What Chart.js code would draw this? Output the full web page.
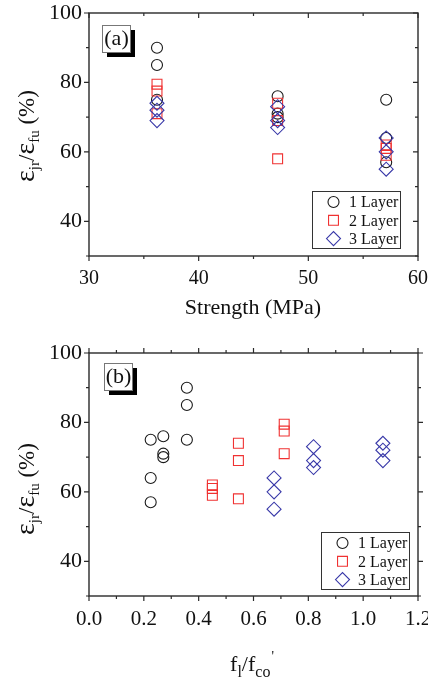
<!DOCTYPE html>
<html><head><meta charset="utf-8">
<script src="https://cdn.jsdelivr.net/npm/chart.js@4/dist/chart.umd.min.js"></script>
<style>
html,body{margin:0;padding:0;background:#fff;width:428px;height:684px;overflow:hidden;position:relative;}
.wrap{position:absolute;left:0;width:428px;}
canvas{display:block;}
.t{position:absolute;font-family:"Liberation Serif","Times New Roman",serif;color:#111;white-space:nowrap;line-height:1;}
.ytitle{font-size:23px;transform:translate(-50%,-50%) rotate(-90deg);}
.ytitle .eps{font-size:28px;}
.ytitle sub{font-size:15px;vertical-align:-5px;}
.xtitle{font-size:22px;transform:translate(-50%,-50%);}
.xtitle sub{font-size:16px;vertical-align:-6px;}
.xtitle sup{font-size:14px;vertical-align:10px;margin-left:1px;}
</style></head>
<body>
<div class="wrap" style="top:0;height:340px;"><canvas id="c1" width="428" height="340"></canvas></div>
<div class="wrap" style="top:340px;height:344px;"><canvas id="c2" width="428" height="344"></canvas></div>
<div class="t ytitle" style="left:26px;top:136px;"><span class="eps">ε</span><sub>jr</sub>/<span class="eps">ε</span><sub>fu</sub> (%)</div>
<div class="t ytitle" style="left:26px;top:489px;"><span class="eps">ε</span><sub>jr</sub>/<span class="eps">ε</span><sub>fu</sub> (%)</div>
<div class="t xtitle" style="left:253px;top:307px;">Strength (MPa)</div>
<div class="t xtitle" style="left:252px;top:665px;">f<sub>l</sub>/f<sub>co</sub><sup>'</sup></div>
<script>
// ---- data ----
const layerNames = ['1 Layer', '2 Layer', '3 Layer'];
// (a) concrete strength (MPa)
const strengthMPa = [36.2, 36.2, 36.2, 47.2, 47.2, 47.2, 57.1, 57.1, 57.1];
// strain ratio (%) per layer group, same order as strength
const ratio1Layer = [90, 85, 75, 76, 71, 70, 75, 64, 57];
const ratio2Layer = [79.5, 77.5, 71, 74, 69, 58, 62, 61, 59];
const ratio3Layer = [74, 72, 69, 73, 69, 67, 64, 60, 55];
// (b) confinement ratio fl/fco'
const confRatio1Layer = [0.357, 0.357, 0.357, 0.271, 0.271, 0.271, 0.225, 0.225, 0.225];
const confRatio2Layer = [0.712, 0.712, 0.712, 0.545, 0.545, 0.545, 0.450, 0.450, 0.450];
const confRatio3Layer = [1.072, 1.072, 1.072, 0.819, 0.819, 0.819, 0.675, 0.675, 0.675];
const panelLabels = ['(a)', '(b)'];

const FONT = '"Liberation Serif","Times New Roman",serif';
const styles = [
  {pointStyle:'circle', radius:5.5, color:'#1a1a1a', order:3},
  {pointStyle:'rect', radius:7, color:'#f03232', order:2},
  {pointStyle:'rectRot', radius:7, color:'#3838a8', order:1}
];

function pts(xs, ys){ return xs.map((x,i)=>({x:x, y:ys[i]})); }

function drawMarker(ctx, st, x, y){
  ctx.save();
  ctx.strokeStyle = st.color; ctx.fillStyle = 'rgba(0,0,0,0)'; ctx.lineWidth = 1.1;
  Chart.helpers.drawPoint(ctx, {pointStyle:st.pointStyle, radius:st.radius, rotation:0, borderWidth:1.1}, x, y);
  ctx.restore();
}

const framePlugin = {
  id:'frame',
  afterDraw(chart, args, o){
    const {ctx, chartArea:a} = chart;
    const x = chart.scales.x, y = chart.scales.y;
    ctx.save();
    ctx.strokeStyle = '#2a2a2a'; ctx.lineWidth = 1.4;
    ctx.strokeRect(a.left, a.top, a.right - a.left, a.bottom - a.top);
    ctx.lineWidth = 1.2;
    ctx.beginPath();
    x.ticks.forEach(t => {
      const px = x.getPixelForValue(t.value);
      const len = t.label !== '' ? 5 : 3;
      ctx.moveTo(px, a.bottom); ctx.lineTo(px, a.bottom + len);
      ctx.moveTo(px, a.top); ctx.lineTo(px, a.top + (o.inTop ? len : -len));
    });
    y.ticks.forEach(t => {
      const py = y.getPixelForValue(t.value);
      const len = t.label !== '' ? 5 : 3;
      ctx.moveTo(a.left, py); ctx.lineTo(a.left - len, py);
      ctx.moveTo(a.right, py); ctx.lineTo(a.right + (o.inTop ? -len : len), py);
    });
    ctx.stroke();

    // panel label box with shadow
    const bx = a.left + o.boxDx, by = a.top + o.boxDy, bw = 28, bh = 27;
    ctx.fillStyle = '#000';
    ctx.fillRect(bx + 5, by + 5, bw, bh);
    ctx.fillStyle = '#fff';
    ctx.fillRect(bx, by, bw, bh);
    ctx.strokeStyle = '#777'; ctx.lineWidth = 1;
    ctx.strokeRect(bx + 0.5, by + 0.5, bw, bh);
    ctx.fillStyle = '#111';
    ctx.font = '22px ' + FONT;
    ctx.textAlign = 'center'; ctx.textBaseline = 'middle';
    ctx.fillText(o.label, bx + bw/2 + 0.5, by + bh/2 + 1);

    // legend
    const lw = 88, lh = 57;
    const lx = a.right - o.legRight - lw, ly = a.bottom - o.legBottom - lh;
    ctx.fillStyle = '#fff';
    ctx.fillRect(lx, ly, lw, lh);
    ctx.strokeStyle = '#333'; ctx.lineWidth = 1;
    ctx.strokeRect(lx + 0.5, ly + 0.5, lw, lh);
    ctx.font = '16px ' + FONT;
    ctx.textAlign = 'left'; ctx.textBaseline = 'middle';
    layerNames.forEach((n, i) => {
      const ry = ly + 11 + i * 18.3;
      drawMarker(ctx, styles[i], lx + 21.5, ry);
      ctx.fillStyle = '#111';
      ctx.fillText(n, lx + 37, ry + 1);
    });
    ctx.restore();
  }
};

function makeChart(id, seriesX, seriesY, xOpts, frameOpts, xHeight){
  const datasets = seriesY.map((ys, i) => ({
    label: layerNames[i],
    data: pts(seriesX[i], ys),
    pointStyle: styles[i].pointStyle,
    pointRadius: styles[i].radius,
    pointHoverRadius: styles[i].radius,
    pointBorderColor: styles[i].color,
    pointBackgroundColor: 'rgba(0,0,0,0)',
    pointBorderWidth: 1.1,
    showLine: false,
    order: styles[i].order
  }));
  return new Chart(document.getElementById(id), {
    type: 'scatter',
    data: {datasets},
    options: {
      responsive: false, animation: false,
      layout: {padding: {top: 13, right: 10, left: 0, bottom: 0}},
      plugins: {legend: {display: false}, tooltip: {enabled: false}, frame: frameOpts},
      scales: {
        x: Object.assign({
          type: 'linear',
          grid: {display: false, drawTicks: false},
          border: {display: false},
          afterFit(s){ s.height = xHeight; s.paddingLeft = 0; s.paddingRight = 0; }
        }, xOpts),
        y: {
          type: 'linear', min: 30, max: 100,
          grid: {display: false, drawTicks: false},
          border: {display: false},
          ticks: {stepSize: 10, autoSkip: false, padding: 7, color: '#111',
            font: {family: FONT, size: 22},
            callback: v => (v >= 40 && v % 20 === 0) ? String(v) : ''},
          afterFit(s){ s.width = 89; s.paddingTop = 0; s.paddingBottom = 0; }
        }
      }
    },
    plugins: [framePlugin]
  });
}

makeChart('c1',
  [strengthMPa, strengthMPa, strengthMPa],
  [ratio1Layer, ratio2Layer, ratio3Layer],
  {min: 30, max: 60,
   ticks: {stepSize: 5, autoSkip: false, maxRotation: 0, padding: 11, color: '#111',
     font: {family: FONT, size: 20},
     callback: v => (v % 10 === 0) ? String(v) : ''}},
  {label: panelLabels[0], inTop: true, boxDx: 13, boxDy: 12, legRight: 18, legBottom: 8},
  84);

makeChart('c2',
  [confRatio1Layer, confRatio2Layer, confRatio3Layer],
  [ratio1Layer, ratio2Layer, ratio3Layer],
  {min: 0, max: 1.2,
   ticks: {stepSize: 0.1, autoSkip: false, maxRotation: 0, padding: 11, color: '#111',
     font: {family: FONT, size: 21},
     callback: v => { const n = Math.round(v * 10); return n % 2 === 0 ? (n / 10).toFixed(1) : ''; }}},
  {label: panelLabels[1], inTop: false, boxDx: 15, boxDy: 10, legRight: 9, legBottom: 7},
  88);
</script>
</body></html>
